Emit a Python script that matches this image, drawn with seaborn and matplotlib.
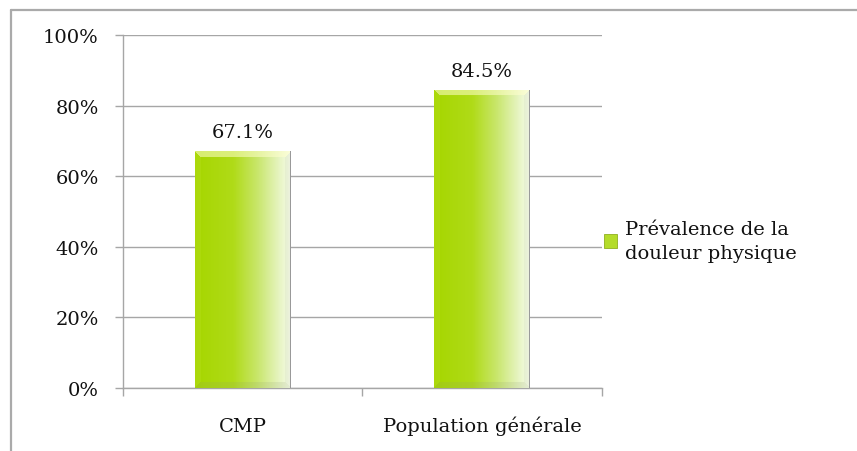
import numpy as np
import pandas as pd
import matplotlib
matplotlib.use("Agg")
import matplotlib.pyplot as plt
from matplotlib.lines import Line2D
from matplotlib.patches import Patch
from matplotlib.colors import LinearSegmentedColormap, to_rgb
import seaborn as sns

categories = ["CMP", "Population générale"]
values = [67.1, 84.5]
value_labels = ["67.1%", "84.5%"]
y_ticks = [0, 20, 40, 60, 80, 100]
y_tick_labels = ["0%", "20%", "40%", "60%", "80%", "100%"]
series_name = "Prévalence de la\ndouleur physique"

sns.set_theme(style="white")
plt.rcParams["font.family"] = ["DejaVu Serif"]
TEXT = "#111111"
GRID = "#a6a6a6"
FS = 14

W, H = 857, 452
fig = plt.figure(figsize=(W / 100, H / 100), dpi=100)
ax = fig.add_axes([123 / W, 1 - 389 / H, (602 - 123) / W, (389 - 36) / H])

df = pd.DataFrame({"cat": categories, "val": values})
sns.barplot(data=df, x="cat", y="val", ax=ax, width=0.4, color="#a8d800",
            edgecolor="none", linewidth=0, zorder=3)

ax.set_xlim(-0.5, 1.5)
ax.set_ylim(0, 100)
ax.set_yticks(y_ticks)
ax.set_yticklabels(y_tick_labels)
ax.set_xlabel("")
ax.set_ylabel("")

ax.yaxis.grid(True, color=GRID, linewidth=1.0, zorder=0)
ax.xaxis.grid(False)
for s in ["top", "right"]:
    ax.spines[s].set_visible(False)
for s in ["left", "bottom"]:
    ax.spines[s].set_color(GRID)
    ax.spines[s].set_linewidth(1.0)

ax.tick_params(axis="y", which="major", left=True, direction="out", length=5.5,
               width=1.0, color=GRID, pad=12, labelsize=FS, labelcolor=TEXT)
ax.tick_params(axis="x", which="major", bottom=False, length=0, pad=31,
               labelsize=FS, labelcolor=TEXT)
for lab in ax.get_xticklabels():
    lab.set_verticalalignment("baseline")
ax.set_xticks([-0.5, 0.5, 1.5], minor=True)
ax.tick_params(axis="x", which="minor", bottom=True, direction="out", length=6,
               width=1.0, color=GRID)

# gradient fill with a bevelled look for each bar
cmap = LinearSegmentedColormap.from_list(
    "lime", [(0.0, "#a6d600"), (0.4, "#b0db18"), (0.65, "#c8e66a"),
             (0.88, "#e6f4c0"), (1.0, "#f6fce8")])
fig.canvas.draw()
for patch in ax.patches:
    x0, y0 = patch.get_x(), patch.get_y()
    w, h = patch.get_width(), patch.get_height()
    (px0, py0), (px1, py1) = ax.transData.transform([(x0, y0), (x0 + w, y0 + h)])
    nx, ny = int(round(px1 - px0)), int(round(py1 - py0))
    gx = np.linspace(0, 1, nx)
    img = np.tile(cmap(gx)[:, :3], (ny, 1, 1))
    bev = 6
    for r in range(ny):
        for c in range(nx):
            top = r
            bot = ny - 1 - r
            left = c
            right = nx - 1 - c
            d = min(top, bot, left, right)
            if d >= bev:
                continue
            if top == d:
                img[r, c] = img[r, c] * 0.45 + np.array([1.0, 1.0, 0.8]) * 0.55
            elif bot == d:
                img[r, c] = img[r, c] * 0.84 + np.array([0.55, 0.6, 0.45]) * 0.16
            elif right == d:
                img[r, c] = img[r, c] * 0.9 + np.array([0.6, 0.62, 0.55]) * 0.1
            else:
                img[r, c] = img[r, c] * 0.9 + np.array([0.85, 0.95, 0.4]) * 0.1
    img[:, -1] = np.array(to_rgb("#9a9a9a"))
    im = ax.imshow(img, extent=(x0, x0 + w, y0, y0 + h), origin="upper",
                   aspect="auto", zorder=4, interpolation="bilinear")
    im.set_clip_path(patch)
    patch.set_alpha(0)

ax.set_xlim(-0.5, 1.5)
ax.set_ylim(0, 100)

for i, (v, lab) in enumerate(zip(values, value_labels)):
    ax.annotate(lab, xy=(i, v), xytext=(0, 7), textcoords="offset points",
                ha="center", va="bottom", fontsize=FS, color=TEXT, zorder=5)

handle = Patch(facecolor="#b4dc2a", edgecolor="#8fb020", linewidth=0.6)
leg = fig.legend([handle], [series_name], loc="center left",
                 bbox_to_anchor=(594 / W, 1 - 242 / H), frameon=False,
                 fontsize=FS, handlelength=0.7, handleheight=0.7,
                 handletextpad=0.4, borderpad=0, labelspacing=0.2)
for t in leg.get_texts():
    t.set_color(TEXT)
    t.set_linespacing(1.45)

# outer chart frame (top and left edges)
fig.add_artist(Line2D([11 / W, 1], [1 - 11 / H, 1 - 11 / H], transform=fig.transFigure,
                      color="#aaaaaa", linewidth=1.6))
fig.add_artist(Line2D([11 / W, 11 / W], [0, 1 - 11 / H], transform=fig.transFigure,
                      color="#aaaaaa", linewidth=1.6))

fig.savefig("out.png", dpi=100, facecolor="white")
